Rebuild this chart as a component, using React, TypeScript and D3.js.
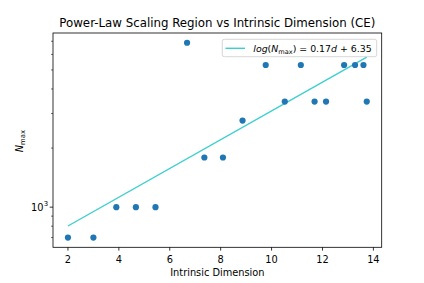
import React from "react";
import * as d3 from "d3";

const dims = [2, 3, 3.9, 4.67, 5.44, 6.68, 7.36, 8.09, 8.86, 9.77, 10.52, 11.15, 11.69, 12.14, 12.85, 13.28, 13.61, 13.74];
const nmax = [700, 700, 1000, 1000, 1000, 6880, 1790, 1790, 2760, 5300, 3450, 5300, 3450, 3450, 5300, 5300, 5300, 3450];
const xTicks = [2, 4, 6, 8, 10, 12, 14];
const FIT_SLOPE = 0.1688;
const FIT_INTERCEPT = 6.349;

const W = 424, H = 283;
const L = 53, R = 381.7, T = 33, B = 247.3;
const FONT = "DejaVu Sans, sans-serif";
const FS = 9.8;
const FS_SUB = 6.9;

export default function App() {
  const xMin = d3.min(dims)!, xMax = d3.max(dims)!;
  const xPad = (xMax - xMin) * 0.05;
  const x = d3.scaleLinear().domain([xMin - xPad, xMax + xPad]).range([L, R]);
  const lyMin = Math.log10(d3.min(nmax)!), lyMax = Math.log10(d3.max(nmax)!);
  const yPad = (lyMax - lyMin) * 0.05;
  const y = d3.scaleLog().domain([Math.pow(10, lyMin - yPad), Math.pow(10, lyMax + yPad)]).range([B, T]);

  const [d0, d1] = y.domain();
  const minorTicks: number[] = [];
  for (let e = Math.floor(Math.log10(d0)); e <= Math.ceil(Math.log10(d1)); e++) {
    for (let m = 2; m < 10; m++) {
      const v = m * Math.pow(10, e);
      if (v >= d0 && v <= d1) minorTicks.push(v);
    }
  }
  const majorTicks = [1000].filter((v) => v >= d0 && v <= d1);

  const fitXs = [xMin, xMax];
  const line = d3.line<number>().x((d) => x(d)).y((d) => y(Math.exp(FIT_INTERCEPT + FIT_SLOPE * d)));

  const lineColor = "#3ccfcf";
  const LFS = 9.4;

  return (
    <svg width={W} height={H} style={{ position: "absolute", left: 0, top: 0, background: "#fff" }} fontFamily={FONT}>
      <rect x={0} y={0} width={W} height={H} fill="#fff" />
      <text x={(L + R) / 2} y={27} textAnchor="middle" fontSize={11.8} fill="#000">
        Power-Law Scaling Region vs Intrinsic Dimension (CE)
      </text>
      <path d={line(fitXs) || ""} fill="none" stroke={lineColor} strokeWidth={1.4} />
      {dims.map((d, i) => (
        <circle key={i} cx={x(d)} cy={y(nmax[i])} r={3.1} fill="#1f77b4" />
      ))}
      <rect x={L} y={T} width={R - L} height={B - T} fill="none" stroke="#000" strokeWidth={0.8} />
      {xTicks.map((t) => (
        <g key={t}>
          <line x1={x(t)} x2={x(t)} y1={B} y2={B + 3.3} stroke="#000" strokeWidth={0.8} />
          <text x={x(t)} y={B + 15.3} textAnchor="middle" fontSize={FS} fill="#000">{t}</text>
        </g>
      ))}
      {minorTicks.map((t) => (
        <line key={t} x1={L - 1.9} x2={L} y1={y(t)} y2={y(t)} stroke="#000" strokeWidth={0.6} />
      ))}
      {majorTicks.map((t) => (
        <g key={t}>
          <line x1={L - 3.3} x2={L} y1={y(t)} y2={y(t)} stroke="#000" strokeWidth={0.8} />
          <text x={L - 9.5} y={y(t) + 3.7} textAnchor="end" fontSize={FS} fill="#000">10</text>
          <text x={L - 9.3} y={y(t) - 0.8} textAnchor="start" fontSize={FS_SUB} fill="#000">3</text>
        </g>
      ))}
      <text x={(L + R) / 2} y={276} textAnchor="middle" fontSize={FS} fill="#000">Intrinsic Dimension</text>
      <text transform={`translate(23,${(T + B) / 2 + 1}) rotate(-90)`} textAnchor="middle" fontSize={FS} fill="#000">
        <tspan fontStyle="italic">N</tspan>
        <tspan fontSize={FS_SUB} dy={2}>max</tspan>
      </text>
      <rect x={222.3} y={39.3} width={154.4} height={17.4} rx={2} fill="#fff" fillOpacity={0.8} stroke="#ccc" strokeWidth={0.8} />
      <line x1={225.5} x2={245} y1={48.3} y2={48.3} stroke={lineColor} strokeWidth={1.4} />
      <text x={253.3} y={51.8} fontSize={LFS} fill="#000">
        <tspan fontStyle="italic">log</tspan>
        <tspan>(</tspan>
        <tspan fontStyle="italic">N</tspan>
        <tspan fontSize={6.6} dy={2}>max</tspan>
        <tspan dy={-2}>) = 0.17</tspan>
        <tspan fontStyle="italic">d</tspan>
        <tspan> + 6.35</tspan>
      </text>
    </svg>
  );
}
